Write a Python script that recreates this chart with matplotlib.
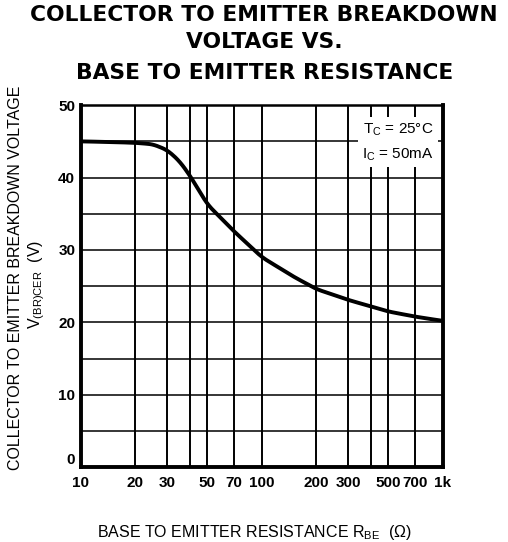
import numpy as np
import matplotlib.pyplot as plt

plt.rcParams['font.family'] = ['Liberation Sans', 'DejaVu Sans']

# curve: R_BE (ohm) vs V(BR)CER (V)
r_be = [10, 15, 20, 25, 30, 35, 40, 50, 70, 100, 150, 200, 300, 500, 700, 1000]
v_br = [45.0, 44.9, 44.8, 44.6, 43.8, 42.3, 40.3, 36.3, 32.6, 29.0, 26.3, 24.6, 23.1, 21.5, 20.8, 20.2]

x_grid = [20, 30, 40, 50, 70, 100, 200, 300, 400, 500, 700]
x_ticks = [10, 20, 30, 50, 70, 100, 200, 300, 500, 700, 1000]
x_ticklabels = ['10', '20', '30', '50', '70', '100', '200', '300', '500', '700', '1k']
y_ticks = [0, 10, 20, 30, 40, 50]
y_grid = [5, 10, 15, 20, 25, 30, 35, 40, 45]

fig = plt.figure(figsize=(5.08, 5.42), dpi=100)
ax = fig.add_axes([0.159, 0.138, 0.713, 0.668])

for xv in x_grid:
    ax.axvline(xv, color='black', lw=1.4, zorder=1)
for yv in y_grid:
    ax.axhline(yv, color='black', lw=1.1, zorder=1)

# smooth the curve in log space
lx = np.log10(r_be)
xs = np.linspace(lx[0], lx[-1], 300)
ys = np.interp(xs, lx, v_br)
k = np.ones(9) / 9
ys_s = np.convolve(np.pad(ys, 4, mode='edge'), k, mode='valid')
ax.plot(10 ** xs, ys_s, color='black', lw=2.8, zorder=3, solid_capstyle='butt')

ax.set_xscale('log')
ax.set_xlim(10, 1000)
ax.set_ylim(0, 50)
ax.set_xticks(x_ticks)
ax.set_xticklabels(x_ticklabels)
ax.xaxis.set_minor_locator(plt.NullLocator())
ax.set_yticks(y_ticks)
ax.tick_params(length=0, labelsize=11)
ax.tick_params(axis='x', pad=6)
ax.tick_params(axis='y', pad=4)
for lab in ax.get_xticklabels() + ax.get_yticklabels():
    lab.set_fontweight('bold')
ax.get_yticklabels()[0].set_va('bottom')

for side in ['left', 'bottom', 'right']:
    ax.spines[side].set_linewidth(2.8)
ax.spines['top'].set_linewidth(1.8)

ax.text(0.975, 0.955, 'T$_\\mathregular{C}$ = 25°C\nI$_\\mathregular{C}$ = 50mA', transform=ax.transAxes,
        ha='right', va='top', fontsize=11, linespacing=1.7,
        bbox=dict(facecolor='white', edgecolor='none', pad=3), zorder=4)

title_font = dict(ha='center', va='center', fontsize=15.7, fontweight='bold',
                  family='DejaVu Sans')
fig.text(0.52, 0.972, 'COLLECTOR TO EMITTER BREAKDOWN', **title_font)
fig.text(0.52, 0.922, 'VOLTAGE VS.', **title_font)
fig.text(0.52, 0.865, 'BASE TO EMITTER RESISTANCE', **title_font)

fig.text(0.03, 0.487, 'COLLECTOR TO EMITTER BREAKDOWN VOLTAGE', rotation=90,
         ha='center', va='center', fontsize=11.5)
fig.text(0.073, 0.476, 'V$_\\mathregular{(BR)CER}$  (V)', rotation=90,
         ha='center', va='center', fontsize=11.5)
fig.text(0.5, 0.018, 'BASE TO EMITTER RESISTANCE R$_\\mathregular{BE}$  (Ω)',
         ha='center', va='center', fontsize=11.5)

fig.savefig('out.png', dpi=100)
